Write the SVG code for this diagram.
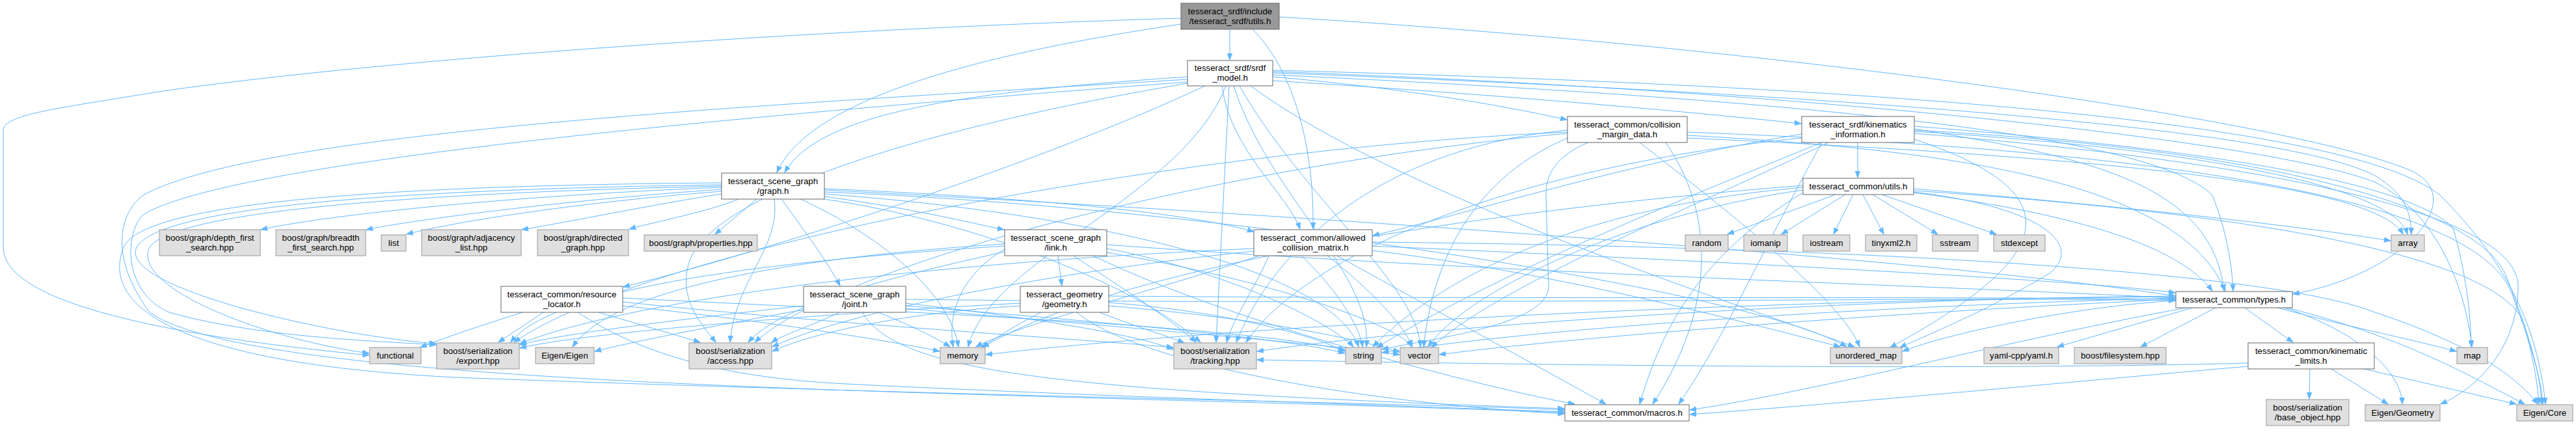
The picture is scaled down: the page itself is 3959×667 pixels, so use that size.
<svg xmlns="http://www.w3.org/2000/svg" width="3959" height="667" viewBox="0 0 3959 667">
<style>
.e{fill:none;stroke:#63b8ff;stroke-width:1;marker-end:url(#a)}
.w{fill:#ffffff;stroke:#666666;stroke-width:1}
.l{fill:#e0e0e0;stroke:#999999;stroke-width:1}
.m{fill:#999999;stroke:#666666;stroke-width:1}
text{font-family:"Liberation Sans",Arial,sans-serif;font-size:13.3px;fill:#000;text-anchor:middle}
</style>
<defs>
<marker id="a" markerWidth="11" markerHeight="9" refX="10" refY="4.5" orient="auto" markerUnits="userSpaceOnUse"><path d="M0,0.8 L10,4.5 L0,8.2 z" fill="#63b8ff" stroke="#63b8ff"/></marker>
</defs>
<rect width="3959" height="667" fill="#ffffff"/>
<g id="edges">
<path class="e" d="M1890,45 L1890,92"/>
<path class="e" d="M1815,37 C1560,75 1250,140 1194,265"/>
<path class="e" d="M1815,28 C1250,45 600,90 250,140 C100,165 5,175 5,200 L5,380 C5,480 350,525 567,546"/>
<path class="e" d="M1925,45 C1990,110 2020,230 2018,352"/>
<path class="e" d="M1966,26 C2700,70 3500,180 3700,260 C3800,300 3700,420 3524,452"/>
<path class="e" d="M1825,118 C1500,140 1260,170 1206,265"/>
<path class="e" d="M1956,118 C2150,135 2300,160 2408,184"/>
<path class="e" d="M1956,124 C2300,145 2600,172 2768,190"/>
<path class="e" d="M1878,132 C1890,230 1980,300 1998,352"/>
<path class="e" d="M1889,132 L1869,526"/>
<path class="e" d="M1884,132 C1820,300 1520,400 1488,533"/>
<path class="e" d="M1896,132 C1950,300 2110,420 2100,533"/>
<path class="e" d="M1905,132 C2000,300 2180,440 2183,533"/>
<path class="e" d="M1922,132 C2150,300 2650,460 2850,533"/>
<path class="e" d="M1852,132 C1600,250 1200,380 958,441"/>
<path class="e" d="M1956,112 C2700,140 3500,190 3650,270 C3700,300 3705,330 3706,360"/>
<path class="e" d="M1956,108 C2800,130 3600,180 3750,300 C3850,400 3900,500 3912,621"/>
<path class="e" d="M1956,115 C2700,150 3300,200 3400,300 C3420,350 3430,400 3432,447"/>
<path class="e" d="M1825,122 C1200,160 400,200 220,300 C180,330 170,400 230,480 C400,600 1500,600 2404,634"/>
<path class="e" d="M1825,126 C1100,180 350,250 220,330 C190,360 190,450 260,480 C400,520 600,525 670,530"/>
<path class="e" d="M1825,128 C1400,200 1100,300 1060,400 C1040,460 1080,500 1100,526"/>
<path class="e" d="M1956,110 C2800,140 3500,220 3650,280 C3750,330 3790,450 3799,533"/>
<path class="e" d="M1109,288 C800,300 500,330 401,353"/>
<path class="e" d="M1109,291 C900,305 650,335 563,353"/>
<path class="e" d="M1109,294 C900,310 700,340 625,360"/>
<path class="e" d="M1109,298 C1000,315 880,340 802,353"/>
<path class="e" d="M1135,306 C1090,325 1010,340 967,352"/>
<path class="e" d="M1163,306 L1099,360"/>
<path class="e" d="M1201,306 C1240,360 1270,400 1291,439"/>
<path class="e" d="M1267,302 C1400,320 1480,340 1543,353"/>
<path class="e" d="M1267,290 C1500,300 1800,320 1927,356"/>
<path class="e" d="M1190,306 C1200,380 1130,430 1122,526"/>
<path class="e" d="M1109,284 C700,290 250,310 210,380 C180,440 500,515 670,528"/>
<path class="e" d="M1109,286 C700,295 270,320 230,380 C200,440 400,520 567,543"/>
<path class="e" d="M1109,281 C600,285 220,310 190,380 C150,480 300,560 700,580 C1500,610 2200,620 2404,630"/>
<path class="e" d="M1267,306 C1500,340 1750,440 1845,526"/>
<path class="e" d="M1230,306 C1350,360 1460,450 1473,533"/>
<path class="e" d="M1267,298 C1700,330 2050,420 2088,533"/>
<path class="e" d="M1267,295 C1900,320 2700,450 2838,533"/>
<path class="e" d="M1267,292 C2000,330 3000,400 3343,455"/>
<path class="e" d="M1626,393 L1632,439"/>
<path class="e" d="M1544,383 C1480,420 1455,480 1465,533"/>
<path class="e" d="M1650,393 C1720,440 1800,490 1838,526"/>
<path class="e" d="M1544,387 C1350,430 1200,470 1150,526"/>
<path class="e" d="M1544,378 C1200,400 850,440 785,526"/>
<path class="e" d="M1701,382 C1900,420 2050,500 2080,533"/>
<path class="e" d="M1701,388 C1950,430 2150,500 2170,533"/>
<path class="e" d="M1544,375 C1300,390 950,430 880,533"/>
<path class="e" d="M1680,393 C1900,500 2300,600 2420,621"/>
<path class="e" d="M1701,376 C2300,420 3000,440 3343,458"/>
<path class="e" d="M1350,480 C1400,500 1440,520 1460,533"/>
<path class="e" d="M1290,480 C1250,500 1200,515 1186,527"/>
<path class="e" d="M1235,470 C1050,490 850,515 799,530"/>
<path class="e" d="M1235,476 C1100,500 950,530 914,540"/>
<path class="e" d="M1392,466 C1600,490 1750,515 1803,537"/>
<path class="e" d="M1392,470 C1700,495 1980,520 2067,543"/>
<path class="e" d="M1392,474 C1750,505 2050,530 2151,545"/>
<path class="e" d="M1325,480 C1380,570 1600,600 2404,628"/>
<path class="e" d="M1392,460 C2200,470 3000,455 3343,462"/>
<path class="e" d="M1600,480 C1560,500 1530,520 1508,534"/>
<path class="e" d="M1690,480 C1740,500 1790,515 1820,527"/>
<path class="e" d="M1568,470 C1400,480 1250,510 1187,540"/>
<path class="e" d="M1568,466 C1300,480 900,510 799,535"/>
<path class="e" d="M1704,465 C1900,480 2030,520 2067,540"/>
<path class="e" d="M1704,470 C1950,490 2100,525 2151,541"/>
<path class="e" d="M1655,480 C1750,560 2100,620 2404,636"/>
<path class="e" d="M1704,455 C2300,460 3000,455 3343,460"/>
<path class="e" d="M835,480 L766,526"/>
<path class="e" d="M920,480 L1076,526"/>
<path class="e" d="M957,470 C1150,490 1350,520 1444,540"/>
<path class="e" d="M888,480 C980,540 1100,580 1300,590 C1700,610 2200,625 2404,633"/>
<path class="e" d="M803,480 C740,500 680,520 646,534"/>
<path class="e" d="M957,464 C1300,500 1650,520 1803,534"/>
<path class="e" d="M957,458 C1400,480 1900,500 2067,538"/>
<path class="e" d="M2000,393 C2050,440 2090,500 2094,533"/>
<path class="e" d="M2040,393 C2100,440 2160,500 2170,533"/>
<path class="e" d="M2055,393 L2468,621"/>
<path class="e" d="M1935,393 C1800,440 1560,500 1500,533"/>
<path class="e" d="M1950,393 C1930,440 1895,490 1885,526"/>
<path class="e" d="M1927,386 C1600,420 1300,480 1187,533"/>
<path class="e" d="M1927,382 C1500,400 1000,450 799,528"/>
<path class="e" d="M2109,385 C2400,420 2700,500 2828,533"/>
<path class="e" d="M2109,378 C2600,400 3200,430 3343,450"/>
<path class="e" d="M2109,372 C2900,380 3500,420 3650,480 C3800,530 3870,580 3900,621"/>
<path class="e" d="M2441,219 C2390,240 2375,270 2376,300 L2380,440 C2380,500 2200,520 2124,537"/>
<path class="e" d="M2409,212 C2250,280 2200,420 2188,533"/>
<path class="e" d="M2593,208 C3000,230 3350,280 3420,447"/>
<path class="e" d="M2560,219 C2650,350 2620,500 2540,621"/>
<path class="e" d="M2409,200 C2100,230 1950,400 1900,526"/>
<path class="e" d="M2409,205 C1900,250 1300,400 1160,526"/>
<path class="e" d="M2409,203 C1800,230 1000,380 790,526"/>
<path class="e" d="M2593,203 C3300,230 3800,300 3860,450 C3890,530 3905,580 3908,621"/>
<path class="e" d="M2520,219 C2650,320 2830,460 2858,533"/>
<path class="e" d="M2593,212 C3200,240 3650,280 3693,360"/>
<path class="e" d="M2855,219 L2855,273"/>
<path class="e" d="M2769,206 C2500,250 2250,330 2110,362"/>
<path class="e" d="M2800,219 C2600,300 2300,420 2116,534"/>
<path class="e" d="M2810,219 C2600,320 2300,440 2200,534"/>
<path class="e" d="M2942,214 C3200,300 3150,400 2905,534"/>
<path class="e" d="M2942,198 C3200,240 3400,280 3418,447"/>
<path class="e" d="M2942,194 C3400,230 3700,280 3770,350 C3790,420 3797,480 3798,533"/>
<path class="e" d="M2942,205 C3500,250 3870,330 3870,440 C3870,540 3800,600 3751,621"/>
<path class="e" d="M2942,200 C3500,230 3800,320 3850,420 C3890,520 3905,580 3906,621"/>
<path class="e" d="M2800,219 C2700,400 2650,520 2580,621"/>
<path class="e" d="M2769,212 C2300,260 2000,400 1915,526"/>
<path class="e" d="M2942,202 C3400,230 3680,290 3700,360"/>
<path class="e" d="M2821,299 L2655,360"/>
<path class="e" d="M2836,299 L2738,360"/>
<path class="e" d="M2848,299 L2818,360"/>
<path class="e" d="M2863,299 L2895,360"/>
<path class="e" d="M2878,299 L2978,360"/>
<path class="e" d="M2892,299 L3068,360"/>
<path class="e" d="M2941,290 C3300,320 3550,350 3674,370"/>
<path class="e" d="M2941,296 C3200,330 3350,380 3400,447"/>
<path class="e" d="M2941,293 C3500,330 3850,400 3880,500 C3895,560 3900,590 3902,621"/>
<path class="e" d="M2771,288 C2400,320 2200,440 2110,533"/>
<path class="e" d="M2771,292 C2500,330 2250,450 2195,533"/>
<path class="e" d="M2771,285 C2200,330 1700,420 1510,534"/>
<path class="e" d="M2941,295 C3150,320 3200,380 3150,420 C3050,480 2950,520 2920,534"/>
<path class="e" d="M2771,296 C2600,400 2550,520 2520,621"/>
<path class="e" d="M3450,473 L3524,526"/>
<path class="e" d="M3500,473 C3600,500 3700,520 3775,540"/>
<path class="e" d="M3510,473 C3600,500 3690,560 3692,621"/>
<path class="e" d="M3515,473 C3700,520 3800,580 3880,621"/>
<path class="e" d="M3370,473 L3162,533"/>
<path class="e" d="M3405,473 L3290,533"/>
<path class="e" d="M3344,462 C3200,470 3000,510 2924,540"/>
<path class="e" d="M3344,458 C2900,470 2400,500 2124,542"/>
<path class="e" d="M3344,460 C2900,480 2400,520 2212,545"/>
<path class="e" d="M3360,473 C3100,520 2800,600 2597,630"/>
<path class="e" d="M3344,455 C2800,460 2200,500 1932,540"/>
<path class="e" d="M3344,456 C2700,460 1900,500 1515,545"/>
<path class="e" d="M3550,567 L3549,613"/>
<path class="e" d="M3583,567 L3670,621"/>
<path class="e" d="M3633,567 L3867,621"/>
<path class="e" d="M3455,563 C3200,585 2900,615 2597,637"/>
<path class="e" d="M3455,558 C3000,570 2300,560 1932,553"/>
</g>
<g id="n_main"><rect class="m" x="1815" y="5" width="151" height="40"/><text x="1890.5" y="21.5">tesseract_srdf/include</text><text x="1890.5" y="36.5">/tesseract_srdf/utils.h</text></g>
<g id="n_srdf"><rect class="w" x="1825" y="93" width="131" height="39"/><text x="1890.5" y="109">tesseract_srdf/srdf</text><text x="1890.5" y="124">_model.h</text></g>
<g id="n_cmd"><rect class="w" x="2409" y="179" width="184" height="40"/><text x="2501" y="195.5">tesseract_common/collision</text><text x="2501" y="210.5">_margin_data.h</text></g>
<g id="n_kin"><rect class="w" x="2769" y="179" width="173" height="40"/><text x="2855.5" y="195.5">tesseract_srdf/kinematics</text><text x="2855.5" y="210.5">_information.h</text></g>
<g id="n_graph"><rect class="w" x="1109" y="266" width="158" height="40"/><text x="1188" y="282.5">tesseract_scene_graph</text><text x="1188" y="297.5">/graph.h</text></g>
<g id="n_cutils"><rect class="w" x="2771" y="274" width="170" height="25"/><text x="2856" y="291">tesseract_common/utils.h</text></g>
<g id="n_dfs"><rect class="l" x="245" y="353" width="155" height="40"/><text x="322.5" y="369.5">boost/graph/depth_first</text><text x="322.5" y="384.5">_search.hpp</text></g>
<g id="n_bfs"><rect class="l" x="424" y="353" width="138" height="40"/><text x="493" y="369.5">boost/graph/breadth</text><text x="493" y="384.5">_first_search.hpp</text></g>
<g id="n_list"><rect class="l" x="586" y="361" width="38" height="25"/><text x="605" y="378">list</text></g>
<g id="n_adj"><rect class="l" x="648" y="353" width="153" height="40"/><text x="724.5" y="369.5">boost/graph/adjacency</text><text x="724.5" y="384.5">_list.hpp</text></g>
<g id="n_dir"><rect class="l" x="826" y="353" width="140" height="40"/><text x="896" y="369.5">boost/graph/directed</text><text x="896" y="384.5">_graph.hpp</text></g>
<g id="n_prop"><rect class="l" x="990" y="361" width="174" height="25"/><text x="1077" y="378">boost/graph/properties.hpp</text></g>
<g id="n_link"><rect class="w" x="1544" y="353" width="157" height="40"/><text x="1622.5" y="369.5">tesseract_scene_graph</text><text x="1622.5" y="384.5">/link.h</text></g>
<g id="n_acm"><rect class="w" x="1927" y="353" width="182" height="40"/><text x="2018" y="369.5">tesseract_common/allowed</text><text x="2018" y="384.5">_collision_matrix.h</text></g>
<g id="n_random"><rect class="l" x="2590" y="361" width="66" height="25"/><text x="2623" y="378">random</text></g>
<g id="n_iomanip"><rect class="l" x="2680" y="361" width="67" height="25"/><text x="2713.5" y="378">iomanip</text></g>
<g id="n_iostream"><rect class="l" x="2771" y="361" width="72" height="25"/><text x="2807" y="378">iostream</text></g>
<g id="n_tinyxml"><rect class="l" x="2867" y="361" width="79" height="25"/><text x="2906.5" y="378">tinyxml2.h</text></g>
<g id="n_sstream"><rect class="l" x="2970" y="361" width="70" height="25"/><text x="3005" y="378">sstream</text></g>
<g id="n_stdexcept"><rect class="l" x="3064" y="361" width="79" height="25"/><text x="3103.5" y="378">stdexcept</text></g>
<g id="n_array"><rect class="l" x="3675" y="361" width="51" height="25"/><text x="3700.5" y="378">array</text></g>
<g id="n_rl"><rect class="w" x="770" y="440" width="187" height="40"/><text x="863.5" y="456.5">tesseract_common/resource</text><text x="863.5" y="471.5">_locator.h</text></g>
<g id="n_joint"><rect class="w" x="1235" y="440" width="157" height="40"/><text x="1313.5" y="456.5">tesseract_scene_graph</text><text x="1313.5" y="471.5">/joint.h</text></g>
<g id="n_geom"><rect class="w" x="1568" y="440" width="136" height="40"/><text x="1636" y="456.5">tesseract_geometry</text><text x="1636" y="471.5">/geometry.h</text></g>
<g id="n_types"><rect class="w" x="3344" y="448" width="179" height="25"/><text x="3433.5" y="465">tesseract_common/types.h</text></g>
<g id="n_export"><rect class="l" x="671" y="527" width="127" height="40"/><text x="734.5" y="543.5">boost/serialization</text><text x="734.5" y="558.5">/export.hpp</text></g>
<g id="n_functional"><rect class="l" x="568" y="534" width="79" height="25"/><text x="607.5" y="551">functional</text></g>
<g id="n_eigen"><rect class="l" x="823" y="534" width="90" height="25"/><text x="868" y="551">Eigen/Eigen</text></g>
<g id="n_access"><rect class="l" x="1059" y="527" width="127" height="40"/><text x="1122.5" y="543.5">boost/serialization</text><text x="1122.5" y="558.5">/access.hpp</text></g>
<g id="n_memory"><rect class="l" x="1445" y="534" width="69" height="25"/><text x="1479.5" y="551">memory</text></g>
<g id="n_tracking"><rect class="l" x="1804" y="527" width="127" height="40"/><text x="1867.5" y="543.5">boost/serialization</text><text x="1867.5" y="558.5">/tracking.hpp</text></g>
<g id="n_string"><rect class="l" x="2068" y="534" width="55" height="25"/><text x="2095.5" y="551">string</text></g>
<g id="n_vector"><rect class="l" x="2152" y="534" width="59" height="25"/><text x="2181.5" y="551">vector</text></g>
<g id="n_umap"><rect class="l" x="2813" y="534" width="110" height="25"/><text x="2868" y="551">unordered_map</text></g>
<g id="n_yaml"><rect class="l" x="3049" y="534" width="115" height="25"/><text x="3106.5" y="551">yaml-cpp/yaml.h</text></g>
<g id="n_fs"><rect class="l" x="3188" y="534" width="141" height="25"/><text x="3258.5" y="551">boost/filesystem.hpp</text></g>
<g id="n_kl"><rect class="w" x="3455" y="527" width="194" height="40"/><text x="3552" y="543.5">tesseract_common/kinematic</text><text x="3552" y="558.5">_limits.h</text></g>
<g id="n_map"><rect class="l" x="3776" y="534" width="47" height="25"/><text x="3799.5" y="551">map</text></g>
<g id="n_macros"><rect class="w" x="2405" y="622" width="191" height="25"/><text x="2500.5" y="639">tesseract_common/macros.h</text></g>
<g id="n_base"><rect class="l" x="3483" y="614" width="127" height="40"/><text x="3546.5" y="630.5">boost/serialization</text><text x="3546.5" y="645.5">/base_object.hpp</text></g>
<g id="n_eg"><rect class="l" x="3635" y="622" width="115" height="25"/><text x="3692.5" y="639">Eigen/Geometry</text></g>
<g id="n_ec"><rect class="l" x="3868" y="622" width="86" height="25"/><text x="3911" y="639">Eigen/Core</text></g>
</svg>
